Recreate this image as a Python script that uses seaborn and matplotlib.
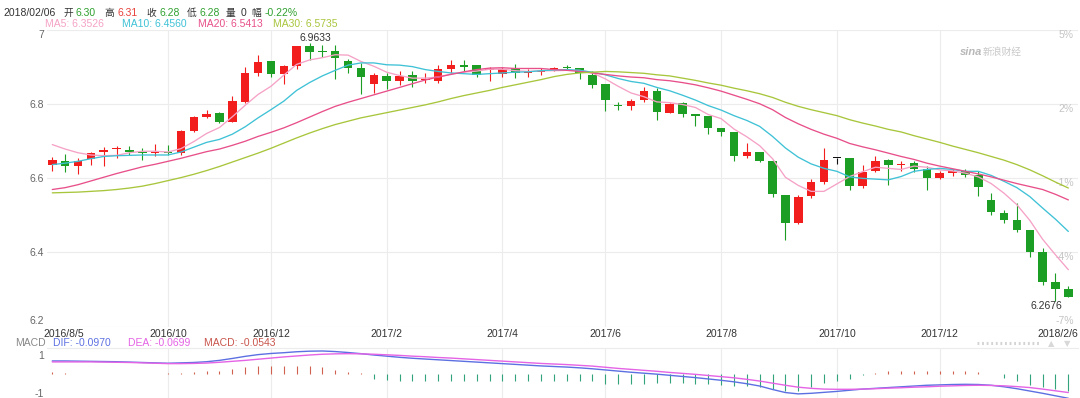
import matplotlib
matplotlib.use("Agg")
import numpy as np
import pandas as pd
import seaborn as sns
import matplotlib.pyplot as plt
import matplotlib.transforms as mtransforms
from matplotlib.lines import Line2D

sns.set_theme(style="white")
plt.rcParams["font.family"] = ["Liberation Sans", "Noto Sans CJK SC", "DejaVu Sans"]

# ? Weekly candles, 2016/8/5 -> 2018/2/6
opens = [6.634, 6.647, 6.631, 6.651, 6.671, 6.678, 6.676, 6.670, 6.666, 6.669,
         6.667, 6.727, 6.763, 6.775, 6.752, 6.806, 6.884, 6.914, 6.880, 6.903,
         6.956, 6.943, 6.942, 6.914, 6.897, 6.853, 6.875, 6.861, 6.877, 6.864,
         6.862, 6.893, 6.905, 6.905, 6.891, 6.880, 6.896, 6.884, 6.885, 6.891,
         6.900, 6.895, 6.878, 6.853, 6.797, 6.794, 6.809, 6.835, 6.776, 6.803,
         6.773, 6.766, 6.734, 6.725, 6.658, 6.670, 6.647, 6.555, 6.479, 6.551,
         6.588, 6.654, 6.654, 6.578, 6.618, 6.649, 6.635, 6.640, 6.624, 6.600,
         6.614, 6.620, 6.609, 6.540, 6.506, 6.488, 6.461, 6.400, 6.320, 6.300]
highs = [6.656, 6.664, 6.654, 6.670, 6.683, 6.685, 6.687, 6.680, 6.692, 6.688,
         6.730, 6.766, 6.784, 6.778, 6.821, 6.898, 6.930, 6.914, 6.905, 6.956,
         6.9633, 6.958, 6.958, 6.920, 6.909, 6.882, 6.882, 6.888, 6.887, 6.884,
         6.905, 6.918, 6.918, 6.905, 6.900, 6.900, 6.907, 6.893, 6.896, 6.900,
         6.904, 6.897, 6.887, 6.853, 6.804, 6.813, 6.844, 6.842, 6.801, 6.806,
         6.773, 6.766, 6.734, 6.725, 6.694, 6.670, 6.649, 6.555, 6.555, 6.597,
         6.680, 6.654, 6.654, 6.634, 6.660, 6.651, 6.645, 6.645, 6.631, 6.618,
         6.624, 6.624, 6.618, 6.560, 6.513, 6.533, 6.461, 6.412, 6.345, 6.310]
lows = [6.618, 6.615, 6.612, 6.636, 6.631, 6.654, 6.663, 6.649, 6.658, 6.663,
        6.663, 6.725, 6.761, 6.749, 6.752, 6.803, 6.875, 6.873, 6.853, 6.893,
        6.918, 6.925, 6.866, 6.882, 6.827, 6.830, 6.840, 6.851, 6.844, 6.857,
        6.855, 6.882, 6.887, 6.873, 6.860, 6.873, 6.869, 6.871, 6.877, 6.889,
        6.893, 6.866, 6.842, 6.781, 6.784, 6.784, 6.806, 6.757, 6.775, 6.764,
        6.739, 6.719, 6.712, 6.645, 6.654, 6.642, 6.549, 6.434, 6.477, 6.546,
        6.585, 6.638, 6.567, 6.573, 6.617, 6.582, 6.620, 6.615, 6.569, 6.597,
        6.606, 6.603, 6.552, 6.501, 6.479, 6.454, 6.388, 6.313, 6.2676, 6.280]
closes = [6.649, 6.633, 6.647, 6.667, 6.676, 6.682, 6.669, 6.666, 6.669, 6.666,
          6.727, 6.764, 6.773, 6.752, 6.808, 6.882, 6.912, 6.880, 6.902, 6.956,
          6.940, 6.940, 6.922, 6.895, 6.871, 6.877, 6.862, 6.875, 6.861, 6.868,
          6.893, 6.905, 6.898, 6.878, 6.893, 6.893, 6.884, 6.886, 6.887, 6.897,
          6.896, 6.884, 6.850, 6.809, 6.794, 6.808, 6.833, 6.779, 6.800, 6.772,
          6.766, 6.736, 6.725, 6.660, 6.669, 6.647, 6.557, 6.479, 6.549, 6.588,
          6.649, 6.654, 6.579, 6.615, 6.647, 6.636, 6.638, 6.624, 6.600, 6.613,
          6.618, 6.609, 6.576, 6.508, 6.486, 6.459, 6.400, 6.320, 6.300, 6.280]

ma5 = [6.690, 6.678, 6.668, 6.662, 6.660, 6.661, 6.668, 6.672, 6.672, 6.670,
       6.679, 6.698, 6.720, 6.736, 6.765, 6.796, 6.825, 6.847, 6.877, 6.906,
       6.918, 6.924, 6.932, 6.931, 6.914, 6.901, 6.885, 6.876, 6.869, 6.869,
       6.872, 6.880, 6.885, 6.888, 6.893, 6.893, 6.889, 6.887, 6.889, 6.889,
       6.890, 6.890, 6.883, 6.867, 6.847, 6.829, 6.819, 6.805, 6.803, 6.798,
       6.790, 6.771, 6.760, 6.732, 6.711, 6.687, 6.652, 6.602, 6.580, 6.564,
       6.564, 6.584, 6.604, 6.617, 6.629, 6.626, 6.623, 6.632, 6.629, 6.622,
       6.619, 6.613, 6.603, 6.585, 6.559, 6.528, 6.486, 6.435, 6.393, 6.353]
ma10 = [6.636, 6.640, 6.645, 6.652, 6.658, 6.660, 6.661, 6.662, 6.662, 6.662,
        6.670, 6.683, 6.696, 6.704, 6.718, 6.738, 6.762, 6.784, 6.807, 6.836,
        6.857, 6.875, 6.890, 6.904, 6.910, 6.910, 6.905, 6.904, 6.900, 6.892,
        6.887, 6.883, 6.881, 6.879, 6.881, 6.883, 6.885, 6.886, 6.889, 6.891,
        6.892, 6.890, 6.885, 6.878, 6.868, 6.860, 6.855, 6.844, 6.835, 6.823,
        6.810, 6.795, 6.783, 6.768, 6.755, 6.739, 6.712, 6.681, 6.656, 6.638,
        6.626, 6.618, 6.603, 6.599, 6.597, 6.595, 6.604, 6.618, 6.623, 6.626,
        6.623, 6.618, 6.618, 6.607, 6.591, 6.574, 6.550, 6.519, 6.489, 6.456]
ma20 = [6.569, 6.574, 6.582, 6.592, 6.602, 6.612, 6.621, 6.630, 6.637, 6.645,
        6.653, 6.662, 6.671, 6.678, 6.688, 6.699, 6.712, 6.723, 6.735, 6.749,
        6.764, 6.779, 6.793, 6.804, 6.814, 6.824, 6.834, 6.844, 6.854, 6.864,
        6.872, 6.879, 6.886, 6.892, 6.896, 6.897, 6.895, 6.895, 6.895, 6.892,
        6.890, 6.887, 6.883, 6.879, 6.875, 6.872, 6.870, 6.865, 6.862, 6.857,
        6.851, 6.843, 6.834, 6.823, 6.812, 6.800, 6.784, 6.763, 6.746, 6.731,
        6.718, 6.707, 6.693, 6.684, 6.676, 6.667, 6.658, 6.650, 6.640, 6.632,
        6.625, 6.618, 6.611, 6.603, 6.594, 6.585, 6.577, 6.569, 6.556, 6.541]
ma30 = [6.560, 6.561, 6.562, 6.564, 6.566, 6.569, 6.573, 6.578, 6.585, 6.593,
        6.601, 6.610, 6.620, 6.631, 6.643, 6.655, 6.667, 6.680, 6.694, 6.708,
        6.721, 6.733, 6.744, 6.753, 6.762, 6.769, 6.776, 6.783, 6.790, 6.797,
        6.805, 6.814, 6.822, 6.829, 6.836, 6.844, 6.851, 6.858, 6.865, 6.873,
        6.879, 6.883, 6.885, 6.887, 6.886, 6.884, 6.882, 6.878, 6.875, 6.869,
        6.863, 6.856, 6.850, 6.842, 6.835, 6.827, 6.817, 6.804, 6.793, 6.784,
        6.776, 6.768, 6.757, 6.748, 6.740, 6.731, 6.724, 6.714, 6.705, 6.696,
        6.686, 6.677, 6.668, 6.658, 6.648, 6.636, 6.622, 6.606, 6.589, 6.573]

# ? MACD panel (panel units as drawn)
dif = [0.69, 0.69, 0.68, 0.67, 0.66, 0.65, 0.63, 0.61, 0.59, 0.57,
       0.59, 0.61, 0.65, 0.72, 0.82, 0.93, 1.02, 1.08, 1.12, 1.17,
       1.20, 1.21, 1.18, 1.13, 1.07, 1.00, 0.94, 0.88, 0.83, 0.79,
       0.75, 0.71, 0.67, 0.63, 0.59, 0.55, 0.51, 0.47, 0.43, 0.40,
       0.37, 0.33, 0.28, 0.22, 0.16, 0.10, 0.05, 0.00, -0.06, -0.12,
       -0.18, -0.25, -0.32, -0.40, -0.50, -0.62, -0.80, -0.96, -1.03, -1.00,
       -0.95, -0.90, -0.84, -0.78, -0.74, -0.70, -0.66, -0.62, -0.58, -0.56,
       -0.54, -0.53, -0.54, -0.58, -0.66, -0.76, -0.88, -1.00, -1.13, -1.26]
dea = [0.64, 0.64, 0.64, 0.64, 0.63, 0.62, 0.61, 0.59, 0.57, 0.55,
       0.55, 0.56, 0.58, 0.62, 0.67, 0.72, 0.78, 0.84, 0.90, 0.95,
       1.00, 1.04, 1.06, 1.07, 1.06, 1.04, 1.01, 0.98, 0.94, 0.91,
       0.87, 0.84, 0.80, 0.76, 0.72, 0.68, 0.64, 0.60, 0.56, 0.53,
       0.50, 0.46, 0.42, 0.36, 0.30, 0.25, 0.20, 0.15, 0.09, 0.04,
       -0.01, -0.07, -0.13, -0.19, -0.27, -0.36, -0.47, -0.58, -0.68, -0.74,
       -0.78, -0.79, -0.79, -0.78, -0.76, -0.73, -0.71, -0.68, -0.66, -0.63,
       -0.61, -0.59, -0.58, -0.59, -0.61, -0.65, -0.70, -0.78, -0.87, -0.96]
macd_hist = [0.10, 0.05, 0.01, 0.01, 0.01, 0.01, 0.02, 0.03, 0.03, 0.04,
             0.07, 0.10, 0.14, 0.17, 0.26, 0.35, 0.45, 0.40, 0.40, 0.45,
             0.40, 0.35, 0.20, 0.10, 0.04, -0.25, -0.30, -0.35, -0.35, -0.35,
             -0.35, -0.35, -0.35, -0.35, -0.35, -0.35, -0.35, -0.35, -0.35, -0.35,
             -0.35, -0.35, -0.38, -0.49, -0.52, -0.52, -0.49, -0.47, -0.47, -0.47,
             -0.49, -0.49, -0.56, -0.61, -0.61, -0.66, -0.78, -0.90, -0.90, -0.69,
             -0.47, -0.36, -0.25, -0.02, 0.05, 0.14, 0.14, 0.17, 0.17, 0.14,
             0.14, 0.14, 0.10, 0.02, -0.21, -0.35, -0.56, -0.69, -0.76, -0.87]

tick_pos = [0, 9, 17, 26, 35, 43, 52, 61, 69, 79]
tick_labels = ["2016/8/5", "2016/10", "2016/12", "2017/2", "2017/4",
               "2017/6", "2017/8", "2017/10", "2017/12", "2018/2/6"]
price_ticks = [6.2, 6.4, 6.6, 6.8, 7.0]
price_labels = ["6.2", "6.4", "6.6", "6.8", "7"]
pct_labels = ["-7%", "-4%", "-1%", "2%", "5%"]

header_date = "2018/02/06"
header_keys = ["开", "高", "收", "低", "量", "幅"]
header_vals = ["6.30", "6.31", "6.28", "6.28", "0", "-0.22%"]
ma_names = ["MA5", "MA10", "MA20", "MA30"]
ma_last = ["6.3526", "6.4560", "6.5413", "6.5735"]
macd_names = ["DIF", "DEA", "MACD"]
macd_last = ["-0.0970", "-0.0699", "-0.0543"]

# ? cores
RED, GREEN = "#f21d1d", "#1c9e24"
ma_colors = {"MA5": "#f5a2c6", "MA10": "#3fc2d6", "MA20": "#e8508a", "MA30": "#a8c63c"}
macd_colors = {"DIF": "#5d70e2", "DEA": "#e563e5", "MACD": "#c9554c"}
GRID = "#ececec"

W, H = 1080, 398
fig = plt.figure(figsize=(W / 100, H / 100), dpi=100)
fig.patch.set_facecolor("white")
left, right = 47, 1078
ax = fig.add_axes([left / W, 1 - 326.5 / H, (right - left) / W, 297 / H])
ax2 = fig.add_axes([left / W, 0, (right - left) / W, 50 / H], sharex=ax)

weeks = np.arange(len(closes))
o, c, hi, lo = map(np.array, (opens, closes, highs, lows))
cores = np.where(c > o, RED, np.where(c < o, GREEN, "#111111"))

# ? candles
ax.vlines(weeks, lo, hi, colors=cores, linewidth=0.8, zorder=2)
body = np.maximum(np.abs(c - o), 0.0025)
ax.bar(weeks, body, bottom=np.minimum(o, c), width=0.66, color=cores, linewidth=0, zorder=3)

# ? MAs
ma_df = pd.DataFrame({"week": weeks, "MA5": ma5, "MA10": ma10, "MA20": ma20, "MA30": ma30})
ma_long = ma_df.melt(id_vars="week", var_name="line", value_name="price")
sns.lineplot(data=ma_long, x="week", y="price", hue="line", palette=ma_colors,
             estimator=None, linewidth=0.95, legend=False, ax=ax, zorder=4)

# max / min labels
i_hi, i_lo = int(np.argmax(hi)), int(np.argmin(lo))
ax.annotate(f"{hi[i_hi]:.4f}", (weeks[i_hi], hi[i_hi]), xytext=(4, 4), textcoords="offset points",
            ha="center", va="center", fontsize=7.5, color="#333333")
ax.annotate(f"{lo[i_lo]:.4f}", (weeks[i_lo], lo[i_lo]), xytext=(-6.8, -3.4), textcoords="offset points",
            ha="center", va="center", fontsize=7.5, color="#333333")

ax.set_xlim(-0.41, 79.75)
ax.set_ylim(6.2, 7.0)
ax.set_xlabel("")
ax.set_ylabel("")
for s in ax.spines.values():
    s.set_visible(False)
ax.set_yticks(price_ticks)
ax.set_yticklabels(price_labels)
ax.set_xticks(tick_pos)
ax.set_xticklabels(tick_labels)
ax.tick_params(axis="y", length=0, pad=2, labelsize=7.5, labelcolor="#666666")
ax.tick_params(axis="x", length=0, pad=1.5, labelsize=7.5, labelcolor="#333333")
ax.grid(True, color=GRID, linewidth=0.8)
ylabs = ax.get_yticklabels()
ylabs[0].set_va("bottom")
ylabs[-1].set_va("top")
xlabs = ax.get_xticklabels()
xlabs[0].set_ha("left")
xlabs[0].set_transform(xlabs[0].get_transform() + mtransforms.ScaledTranslation(-9.3 / 100, 0, fig.dpi_scale_trans))
xlabs[-1].set_ha("right")
xlabs[-1].set_transform(xlabs[-1].get_transform() + mtransforms.ScaledTranslation(9.7 / 100, 0, fig.dpi_scale_trans))
gl = ax.get_xgridlines()
gl[0].set_visible(False)
gl[-1].set_visible(False)

# percent scale on the right
for val, lab in zip(price_ticks, pct_labels):
    ax.text(0.996, val, lab, transform=ax.get_yaxis_transform(), ha="right",
            va="bottom" if val == min(price_ticks) else "top", fontsize=7.5, color="#c4c4c4")

# ? MACD panel
hist_cores = np.where(np.array(macd_hist) >= 0, "#d0604f", "#33a37c")
ax2.vlines(weeks, 0, macd_hist, colors=hist_cores, linewidth=0.8, zorder=2)
macd_df = pd.DataFrame({"week": weeks, "DIF": dif, "DEA": dea})
macd_long = macd_df.melt(id_vars="week", var_name="line", value_name="v")
sns.lineplot(data=macd_long, x="week", y="v", hue="line", palette=macd_colors,
             estimator=None, linewidth=1.0, legend=False, ax=ax2, zorder=3)
ax2.set_ylim(-1.245, 1.366)
ax2.set_xlabel("")
ax2.set_ylabel("")
for k, s in ax2.spines.items():
    s.set_visible(k == "top")
ax2.spines["top"].set_color(GRID)
ax2.spines["top"].set_linewidth(0.8)
ax2.set_yticks([1, -1])
ax2.set_yticklabels(["1", "-1"])
ax2.tick_params(axis="y", length=0, pad=2, labelsize=7.5, labelcolor="#666666")
ax2.tick_params(axis="x", length=0, labelbottom=False)
ax2.grid(True, axis="x", color=GRID, linewidth=0.8)
ax2.grid(False, axis="y")
gl = ax2.get_xgridlines()
gl[0].set_visible(False)
gl[-1].set_visible(False)

# ? header texts
def ftext(px, py, s, color, size=7.5, **kw):
    fig.text(px / W, 1 - py / H, s, color=color, fontsize=size, va="center", ha="left", **kw)

ftext(3, 13, header_date, "#333333")
key_x = [63, 104, 146, 187, 226, 251]
val_x = [75, 118, 159, 199, 241, 265]
val_col = ["#2fa02f", "#e8403a", "#2fa02f", "#2fa02f", "#333333", "#2fa02f"]
for k, v, kx, vx, vc in zip(header_keys, header_vals, key_x, val_x, val_col):
    ftext(kx, 13, k, "#333333", size=7)
    ftext(vx, 13, v, vc)

for name, val, px in zip(ma_names, ma_last, [45, 122, 198, 273]):
    ftext(px, 24, f"{name}: {val}", ma_colors[name])

ftext(15, 342.5, "MACD", "#888888")
for name, val, px in zip(macd_names, macd_last, [53, 128, 204]):
    ftext(px, 342.5, f"{name}: {val}", macd_colors[name])

# watermark
ftext(960, 52, "sina", "#b8b8b8", size=8, fontweight="bold", style="italic")
ftext(983, 52, "新浪财经", "#c8c8c8", size=7)

# scroll widget bottom right
fig.add_artist(Line2D([977 / W, 1040 / W], [1 - 343 / H] * 2, color="#d4d4d4",
                      linestyle=(0, (0.6, 0.9)), linewidth=2.2))
ftext(1048, 344, "▲", "#d8d8d8", size=6, family="DejaVu Sans")
ftext(1064, 344, "▼", "#d8d8d8", size=6, family="DejaVu Sans")

fig.savefig("out.png", dpi=100, facecolor="white")
